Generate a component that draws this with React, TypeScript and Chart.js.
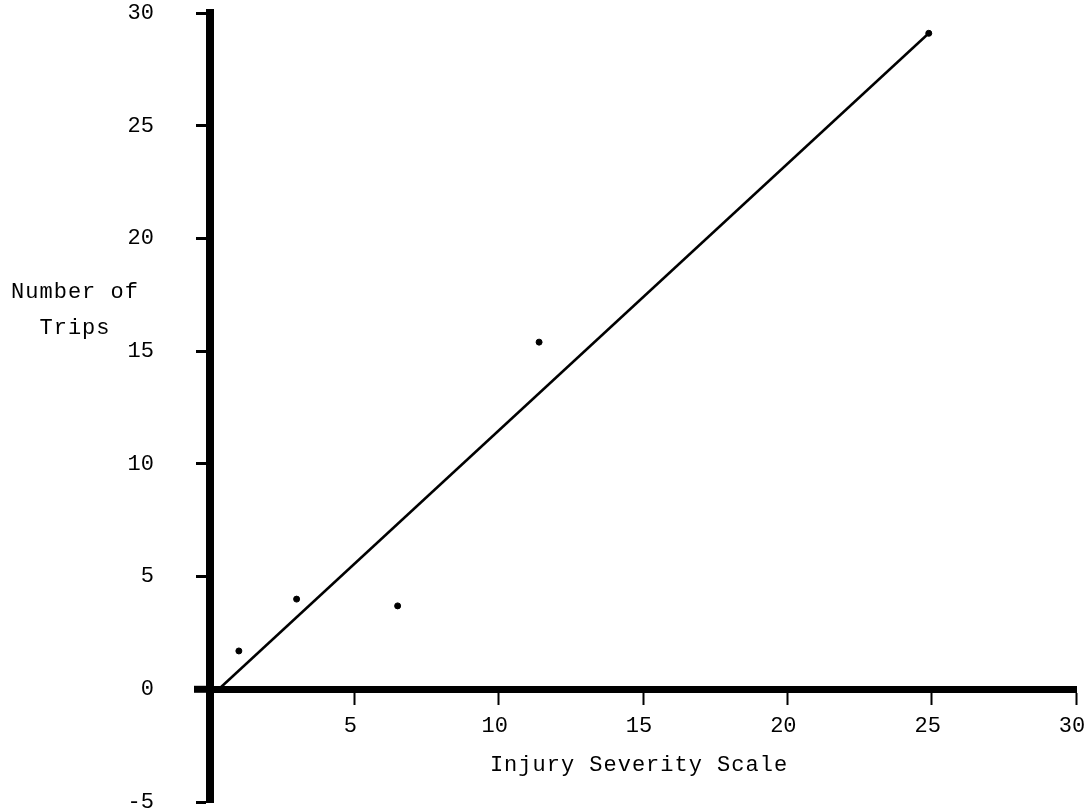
import React, { useEffect, useRef } from "react";
import { Chart, registerables } from "chart.js";

Chart.register(...registerables);

// Observed data points (Injury Severity Scale vs Number of Trips)
const severityValues = [1.0, 3.0, 6.5, 11.4, 24.9];
const tripValues = [1.7, 4.0, 3.7, 15.4, 29.1];

// Fitted line end points
const fitX = [0.3, 24.9];
const fitY = [0.0, 29.1];

// Axis tick settings
const xTickValues = [0, 5, 10, 15, 20, 25, 30];
const yTickValues = [-5, 0, 5, 10, 15, 20, 25, 30];

const xTitle = "Injury Severity Scale";
const yTitleLines = ["Number of", "Trips"];

const FONT = "'Liberation Mono', 'Courier New', monospace";

const titlePlugin = {
  id: "typewriterTitles",
  afterDraw(chart: any) {
    const ctx = chart.ctx as CanvasRenderingContext2D;
    const xs = chart.scales.x;
    const ys = chart.scales.y;
    ctx.save();
    // small extension of x axis to the left of y axis
    ctx.fillStyle = "#000";
    const y0 = ys.getPixelForValue(0);
    ctx.fillRect(xs.left - 16, y0 - 3.5, 16, 7);
    ctx.font = `22px ${FONT}`;
    (ctx as any).letterSpacing = "1px";
    ctx.textAlign = "center";
    ctx.textBaseline = "middle";
    ctx.fillText(xTitle, 639, 765);
    ctx.fillText(yTitleLines[0], 75, 292);
    ctx.fillText(yTitleLines[1], 75, 328);
    ctx.restore();
  },
};

export default function App() {
  const canvasRef = useRef<HTMLCanvasElement | null>(null);

  useEffect(() => {
    if (!canvasRef.current) return;
    const chart = new Chart(canvasRef.current, {
      type: "scatter",
      data: {
        datasets: [
          {
            label: "Observed",
            data: severityValues.map((x, i) => ({ x, y: tripValues[i] })),
            backgroundColor: "#000",
            borderColor: "#000",
            pointRadius: 3,
            showLine: false,
          },
          {
            label: "Fit",
            data: fitX.map((x, i) => ({ x, y: fitY[i] })),
            borderColor: "#000",
            backgroundColor: "#000",
            borderWidth: 2.5,
            pointRadius: 0,
            showLine: true,
          } as any,
        ],
      },
      options: {
        responsive: false,
        animation: false,
        layout: { padding: { left: 0, right: 12, top: 13, bottom: 7 } },
        plugins: {
          legend: { display: false },
          tooltip: { enabled: false },
        },
        scales: {
          x: {
            type: "linear",
            min: 0,
            max: 30,
            position: { y: 0 } as any,
            afterBuildTicks: (s: any) => {
              s.ticks = xTickValues.map((v) => ({ value: v }));
            },
            afterFit: (s: any) => {
              s.paddingLeft = 0;
              s.paddingRight = 0;
            },
            ticks: {
              color: "#000",
              font: { family: FONT, size: 22 },
              padding: 12,
              labelOffset: -4,
              maxRotation: 0,
              callback: (v: any) => (v === 0 ? "" : String(v)),
            },
            grid: {
              drawOnChartArea: false,
              drawTicks: true,
              tickLength: 12,
              tickWidth: 2,
              tickColor: "#000",
              color: "#000",
            },
            border: { display: true, width: 7, color: "#000" },
          },
          y: {
            type: "linear",
            min: -5,
            max: 30,
            position: "left",
            afterBuildTicks: (s: any) => {
              s.ticks = yTickValues.map((v) => ({ value: v }));
            },
            afterFit: (s: any) => {
              s.width = 210;
              s.paddingTop = 0;
              s.paddingBottom = 0;
            },
            ticks: {
              color: "#000",
              font: { family: FONT, size: 22 },
              padding: 42,
              labelOffset: 0,
            },
            grid: {
              drawOnChartArea: false,
              drawTicks: true,
              tickLength: 14,
              tickWidth: 3,
              tickColor: "#000",
              color: "#000",
            },
            border: { display: true, width: 8, color: "#000" },
          },
        },
      },
      plugins: [titlePlugin],
    });
    return () => chart.destroy();
  }, []);

  return (
    <div
      style={{
        position: "absolute",
        left: 0,
        top: 0,
        width: 1088,
        height: 809,
        background: "#fff",
      }}
    >
      <canvas ref={canvasRef} width={1088} height={809} />
    </div>
  );
}
